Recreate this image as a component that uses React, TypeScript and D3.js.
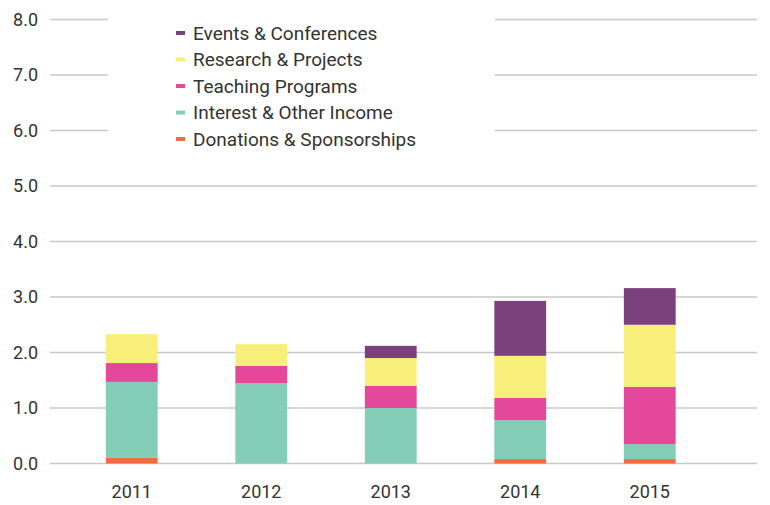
import React from "react";
import * as d3 from "d3";

const years = ["2011", "2012", "2013", "2014", "2015"];
const donations = [0.1, 0.0, 0.0, 0.08, 0.08];
const interest = [1.37, 1.45, 1.0, 0.7, 0.27];
const teaching = [0.34, 0.31, 0.4, 0.4, 1.03];
const research = [0.52, 0.39, 0.5, 0.76, 1.12];
const events = [0.0, 0.0, 0.22, 0.99, 0.66];
const yTicks = [0, 1, 2, 3, 4, 5, 6, 7, 8];

const seriesNames = [
  "Donations & Sponsorships",
  "Interest & Other Income",
  "Teaching Programs",
  "Research & Projects",
  "Events & Conferences",
];
const seriesValues = [donations, interest, teaching, research, events];
const colors = ["#F26B45", "#84CDB7", "#E4489A", "#F7EF79", "#7A417C"];

export default function App() {
  const W = 770, H = 505;
  const x = d3.scaleBand<string>().domain(years).range([67, 714.5]).paddingInner(0.6).paddingOuter(0.3);
  const y = d3.scaleLinear().domain([0, 8]).range([463.5, 19.5]);
  const rows = years.map((yr, i) => {
    const r: any = { year: yr };
    seriesNames.forEach((n, k) => (r[n] = seriesValues[k][i]));
    return r;
  });
  const stacked = d3.stack<any>().keys(seriesNames)(rows);
  const font = "Roboto, 'Noto Sans', sans-serif";
  const legendOrder = [...seriesNames].reverse();
  return (
    <svg width={W} height={H} style={{ position: "absolute", left: 0, top: 0 }}>
      <rect width={W} height={H} fill="#fff" />
      {yTicks.map((t) => (
        <g key={t}>
          <line x1={50} x2={757} y1={y(t)} y2={y(t)} stroke="#c8c8c8" strokeWidth={1.5} />
          <text x={38} y={y(t)} dy="0.35em" textAnchor="end" fontFamily={font} fontSize={18} fill="#333">
            {t.toFixed(1)}
          </text>
        </g>
      ))}
      {stacked.map((s, k) => (
        <g key={s.key} fill={colors[k]}>
          {s.map((d, i) =>
            d[1] - d[0] > 0 ? (
              <rect key={i} x={x(years[i])} width={x.bandwidth()} y={y(d[1])} height={y(d[0]) - y(d[1])} />
            ) : null
          )}
        </g>
      ))}
      {years.map((yr) => (
        <text key={yr} x={(x(yr) as number) + x.bandwidth() / 2} y={492} dy="0.35em" textAnchor="middle" fontFamily={font} fontSize={18} fill="#333">
          {yr}
        </text>
      ))}
      <rect x={108} y={8} width={387} height={150} fill="#fff" />
      {legendOrder.map((n, i) => {
        const k = seriesNames.indexOf(n);
        const cy = 33 + i * 26.5;
        return (
          <g key={n}>
            <rect x={176} y={cy - 2} width={9} height={4} fill={colors[k]} />
            <text x={193} y={cy} dy="0.35em" fontFamily={font} fontSize={19} fill="#333">
              {n}
            </text>
          </g>
        );
      })}
    </svg>
  );
}
